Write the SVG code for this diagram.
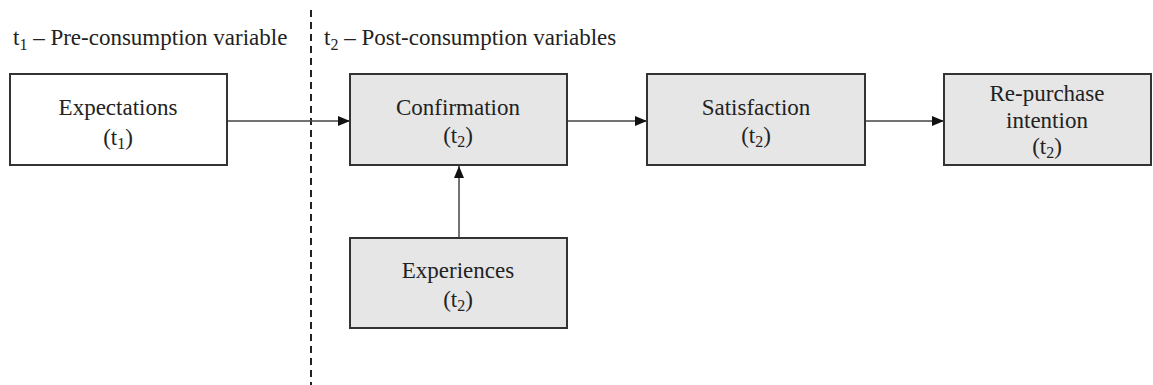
<svg xmlns="http://www.w3.org/2000/svg" width="1153" height="385" viewBox="0 0 1153 385">
<style>
text{font-family:"Liberation Serif","Times New Roman",serif;font-size:23px;fill:#222}
.c{text-anchor:middle}
.box{stroke:#333;stroke-width:2}
.w{fill:#fff}
.g{fill:#e6e6e6}
.sub{font-size:16px}
.edge{stroke:#444;stroke-width:1.5;fill:none}
</style>
<defs>
<marker id="ah" markerWidth="12" markerHeight="10" refX="12" refY="5" orient="auto" markerUnits="userSpaceOnUse">
<path d="M0,0 L12,5 L0,10 Z" fill="#111"/>
</marker>
</defs>
<line x1="311" y1="10" x2="311" y2="385" stroke="#222" stroke-width="2" stroke-dasharray="7,5"/>
<text x="13" y="45">t<tspan class="sub" dy="5">1</tspan><tspan dy="-5"> – Pre-consumption variable</tspan></text>
<text x="324" y="45">t<tspan class="sub" dy="5">2</tspan><tspan dy="-5"> – Post-consumption variables</tspan></text>
<g id="connectors">
<line class="edge" x1="227" y1="121" x2="350" y2="121" marker-end="url(#ah)"/>
<line class="edge" x1="567" y1="121" x2="647" y2="121" marker-end="url(#ah)"/>
<line class="edge" x1="865" y1="121" x2="944" y2="121" marker-end="url(#ah)"/>
<line class="edge" x1="459" y1="238" x2="459" y2="166" marker-end="url(#ah)"/>
</g>
<g id="expectations">
<rect class="box w" x="10" y="74" width="217" height="91"/>
<text class="c" x="118" y="115">Expectations</text>
<text class="c" x="118" y="145">(t<tspan class="sub" dy="4">1</tspan><tspan dy="-4">)</tspan></text>
</g>
<g id="confirmation">
<rect class="box g" x="350" y="74" width="217" height="91"/>
<text class="c" x="458" y="115">Confirmation</text>
<text class="c" x="458" y="143">(t<tspan class="sub" dy="4">2</tspan><tspan dy="-4">)</tspan></text>
</g>
<g id="satisfaction">
<rect class="box g" x="647" y="74" width="218" height="91"/>
<text class="c" x="756" y="115">Satisfaction</text>
<text class="c" x="756" y="143">(t<tspan class="sub" dy="4">2</tspan><tspan dy="-4">)</tspan></text>
</g>
<g id="repurchase">
<rect class="box g" x="944" y="74" width="207" height="91"/>
<text class="c" x="1047" y="101">Re-purchase</text>
<text class="c" x="1047" y="128">intention</text>
<text class="c" x="1047" y="154">(t<tspan class="sub" dy="4">2</tspan><tspan dy="-4">)</tspan></text>
</g>
<g id="experiences">
<rect class="box g" x="350" y="238" width="217" height="90"/>
<text class="c" x="458" y="278">Experiences</text>
<text class="c" x="458" y="307">(t<tspan class="sub" dy="4">2</tspan><tspan dy="-4">)</tspan></text>
</g>
</svg>
